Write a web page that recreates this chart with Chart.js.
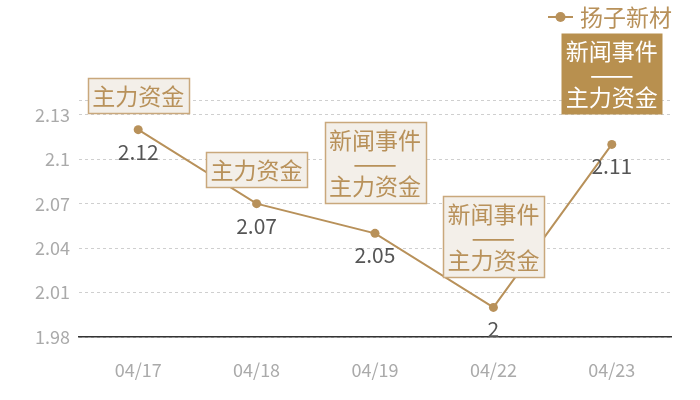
<!DOCTYPE html>
<html>
<head>
<meta charset="utf-8">
<script src="https://cdn.jsdelivr.net/npm/chart.js@4/dist/chart.umd.min.js"></script>
<style>
  body { margin: 0; background: #fff; }
  #wrap { width: 700px; height: 400px; }
</style>
</head>
<body>
<div id="wrap"><canvas id="priceChart"></canvas></div>
<script>
// datos
var seriesName = '扬子新材';
var dates = ['04/17', '04/18', '04/19', '04/22', '04/23'];
var prices = [2.12, 2.07, 2.05, 2.00, 2.11];
var yTicks = [1.98, 2.01, 2.04, 2.07, 2.10, 2.13];
var yMin = 1.98;
var yMax = 2.14;
// etiquetas de eventos sobre cada punto
var eventTexts = [
    ['主力资金'],
    ['主力资金'],
    ['新闻事件', '——', '主力资金'],
    ['新闻事件', '——', '主力资金'],
    ['新闻事件', '——', '主力资金']
];
var eventHighlight = [false, false, false, false, true];

var GOLD = '#b8915a';
var CJK = '"Noto Sans CJK SC", "Noto Sans", sans-serif';

// plugin para etiquetas de valor, cajas de eventos y leyenda
var eventPlugin = {
    id: 'eventPlugin',
    afterDatasetsDraw: function (chart) {
        var ctx = chart.ctx;
        var pts = chart.getDatasetMeta(0).data;
        ctx.save();

        // valores debajo de cada punto
        ctx.font = '21px ' + CJK;
        ctx.fillStyle = '#555';
        ctx.textAlign = 'center';
        ctx.textBaseline = 'middle';
        pts.forEach(function (p, i) {
            ctx.fillText(String(prices[i]), p.x, p.y + 22);
        });

        // cajas de eventos
        pts.forEach(function (p, i) {
            var lines = eventTexts[i];
            var lineH = 23;
            var boxW = 101;
            var boxH = lines.length * lineH + 12;
            var gap = lines.length === 1 ? 17 : 30;
            var left = Math.round(p.x - boxW / 2) + 0.5;
            var top = Math.round(p.y - gap - boxH) + 0.5;
            if (eventHighlight[i]) {
                ctx.fillStyle = '#b8904f';
                ctx.fillRect(left, top, boxW, boxH);
            } else {
                ctx.fillStyle = '#f3efe9';
                ctx.fillRect(left, top, boxW, boxH);
                ctx.strokeStyle = '#c9a87c';
                ctx.lineWidth = 1.5;
                ctx.strokeRect(left, top, boxW, boxH);
            }
            var color = eventHighlight[i] ? '#ffffff' : GOLD;
            ctx.fillStyle = color;
            lines.forEach(function (t, k) {
                var cy = top + 6 + lineH * k + lineH / 2;
                if (t === '——') {
                    ctx.font = '26px ' + CJK;
                } else {
                    ctx.font = '23px ' + CJK;
                }
                ctx.fillText(t, p.x, cy);
            });
        });

        // leyenda arriba a la derecha
        ctx.font = '23px ' + CJK;
        ctx.textAlign = 'right';
        ctx.fillStyle = GOLD;
        ctx.fillText(seriesName, 672, 17);
        ctx.strokeStyle = GOLD;
        ctx.lineWidth = 2;
        ctx.beginPath();
        ctx.moveTo(548, 17);
        ctx.lineTo(573, 17);
        ctx.stroke();
        ctx.beginPath();
        ctx.arc(560.5, 17, 5, 0, Math.PI * 2);
        ctx.fill();

        ctx.restore();
    }
};

var ctx = document.getElementById('priceChart').getContext('2d');
var myChart = new Chart(ctx, {
    type: 'line',
    data: {
        labels: dates,
        datasets: [{
            label: seriesName,
            data: prices,
            borderColor: GOLD,
            backgroundColor: GOLD,
            pointBackgroundColor: GOLD,
            pointBorderWidth: 0,
            pointRadius: 4.5,
            borderWidth: 2,
            tension: 0
        }]
    },
    options: {
        responsive: true,
        maintainAspectRatio: false,
        animation: false,
        layout: {
            padding: { top: 100, right: 29, left: 0, bottom: 0 }
        },
        plugins: {
            legend: { display: false },
            tooltip: { enabled: false }
        },
        scales: {
            x: {
                offset: true,
                grid: { display: false, drawTicks: false },
                border: { color: '#333', width: 1.5 },
                ticks: {
                    color: '#aaa',
                    font: { size: 18, family: CJK },
                    padding: 22
                },
                afterFit: function (scale) { scale.height = 63; }
            },
            y: {
                min: yMin,
                max: yMax,
                grid: { color: '#cfcfcf', drawTicks: false },
                border: { display: false, dash: [3, 3] },
                afterBuildTicks: function (scale) {
                    scale.ticks = yTicks.concat([yMax]).map(function (v) { return { value: v }; });
                },
                ticks: {
                    color: '#aaa',
                    font: { size: 18, family: CJK },
                    padding: 9,
                    callback: function (v) {
                        return yTicks.indexOf(v) >= 0 ? String(Math.round(v * 100) / 100) : '';
                    }
                },
                afterFit: function (scale) { scale.width = 79; }
            }
        }
    },
    plugins: [eventPlugin]
});
</script>
</body>
</html>
